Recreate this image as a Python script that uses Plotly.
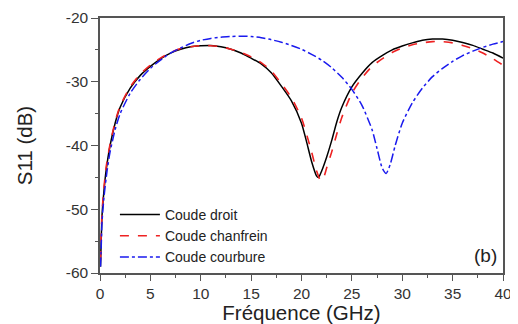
import plotly.graph_objects as go

freq_droit = [0.05, 0.1, 0.2, 0.4, 0.6, 1.0, 1.5, 2, 3, 4, 5, 6, 7, 8, 9, 10, 11, 12, 13, 14, 15, 16, 17, 18, 19, 20, 20.5, 21, 21.5, 21.7, 22, 22.5, 23, 23.5, 24, 25, 26, 27, 28, 29, 30, 31, 32, 33, 34, 35, 36, 37, 38, 39, 40]
s11_droit = [-59, -56, -51, -47, -44, -40, -36.5, -34, -31, -29, -27.6, -26.4, -25.5, -24.9, -24.5, -24.35, -24.3, -24.5, -24.9, -25.5, -26.3, -27.2, -28.6, -30.7, -33, -36.5, -39.4, -42.5, -44.8, -45.0, -44, -41.8, -39.2, -36.3, -34, -30.8, -28.7, -27.0, -25.9, -25.0, -24.4, -23.9, -23.5, -23.3, -23.3, -23.5, -23.85, -24.3, -24.9, -25.5, -26.3]

freq_chanfrein = [0.05, 0.1, 0.2, 0.4, 0.6, 1.0, 1.5, 2, 3, 4, 5, 6, 7, 8, 9, 10, 11, 12, 13, 14, 15, 16, 17, 18, 19, 20, 21, 21.5, 21.9, 22.2, 22.5, 23, 23.5, 24, 25, 26, 27, 28, 29, 30, 31, 32, 33, 34, 35, 36, 37, 38, 39, 40]
s11_chanfrein = [-58, -55, -50.5, -46.5, -43.5, -39.8, -36.3, -33.8, -30.8, -28.8, -27.4, -26.3, -25.4, -24.8, -24.5, -24.35, -24.35, -24.5, -24.9, -25.4, -26.1, -27.0, -28.3, -30.3, -32.5, -35.7, -41, -44, -45.5, -45, -43.5, -41, -38.2, -35.6, -31.8, -29.4, -27.6, -26.4, -25.4, -24.7, -24.2, -23.9, -23.7, -23.7, -23.9, -24.3, -24.8, -25.5, -26.4, -27.4]

freq_courbure = [0.05, 0.1, 0.2, 0.4, 0.7, 1, 1.5, 2, 3, 4, 5, 6, 7, 8, 9, 10, 11, 12, 13, 14, 15, 16, 17, 18, 19, 20, 21, 22, 23, 24, 25, 26, 27, 27.5, 28, 28.4, 28.8, 29.3, 30, 31, 32, 33, 34, 35, 36, 37, 38, 39, 40]
s11_courbure = [-59, -57, -52, -48, -44, -41, -37.5, -35, -31.8, -29.6, -27.9, -26.6, -25.5, -24.7, -24.0, -23.5, -23.2, -23.0, -22.9, -22.85, -22.9, -23.1, -23.4, -23.8, -24.3, -24.9, -25.7, -26.6, -27.8, -29.3, -31.2, -33.7, -37.5, -40.5, -43.5, -44.4, -43, -40, -36.5, -33.3, -31, -29.2, -27.9, -26.8, -25.9, -25.2, -24.6, -24.1, -23.7]

x_ticks = [0, 5, 10, 15, 20, 25, 30, 35, 40]
y_ticks = [-60, -50, -40, -30, -20]

FONT = "Liberation Sans, Arial, sans-serif"

fig = go.Figure()
fig.add_trace(go.Scatter(x=freq_droit, y=s11_droit, mode="lines", name="Coude droit",
                         line=dict(color="black", width=1.5, shape="spline", smoothing=0.6)))
fig.add_trace(go.Scatter(x=freq_chanfrein, y=s11_chanfrein, mode="lines", name="Coude chanfrein",
                         line=dict(color="#ee2222", width=1.6, dash="dash", shape="spline", smoothing=0.6)))
fig.add_trace(go.Scatter(x=freq_courbure, y=s11_courbure, mode="lines", name="Coude courbure",
                         line=dict(color="#1a1aee", width=1.5, dash="dashdot", shape="spline", smoothing=0.6)))

axis_common = dict(showline=True, linecolor="#555555", linewidth=1.5, mirror=True,
                   ticks="outside", tickwidth=1.2, tickcolor="#555555",
                   showgrid=False, zeroline=False, automargin=False,
                   tickfont=dict(family=FONT, size=15.5, color="#333333"))

fig.update_xaxes(range=[0, 40], tickvals=x_ticks, ticktext=[str(v) for v in x_ticks], ticklen=6,
                 minor=dict(ticks="outside", ticklen=3, dtick=2.5, tick0=0, tickcolor="#555555", showgrid=False),
                 title=dict(text="Fréquence (GHz)", font=dict(family=FONT, size=20.5, color="#222222"), standoff=0),
                 **axis_common)
fig.update_yaxes(range=[-60, -20], tickvals=y_ticks, ticktext=[str(v) for v in y_ticks], ticklen=7,
                 minor=dict(ticks="outside", ticklen=3, dtick=5, tick0=0, tickcolor="#555555", showgrid=False),
                 title=dict(text="S11 (dB)", font=dict(family=FONT, size=20.5, color="#222222"), standoff=28),
                 **axis_common)

fig.add_annotation(x=0.99, y=0.02, xref="paper", yref="paper", xanchor="right", yanchor="bottom",
                   text="(b)", showarrow=False, font=dict(family=FONT, size=19, color="#222222"))

# page body has an 8px default margin: shrink the figure so the plot area lands where the reference has it
fig.update_layout(width=510, height=316, margin=dict(l=92, r=15, t=10, b=51),
                  plot_bgcolor="white", paper_bgcolor="white",
                  font=dict(family=FONT, color="#222222"),
                  legend=dict(x=0.037, y=0.0, xanchor="left", yanchor="bottom",
                              bgcolor="rgba(0,0,0,0)", tracegroupgap=0, itemwidth=40,
                              font=dict(family=FONT, size=14, color="#222222")),
                  showlegend=True)

fig.write_html("out.html")
